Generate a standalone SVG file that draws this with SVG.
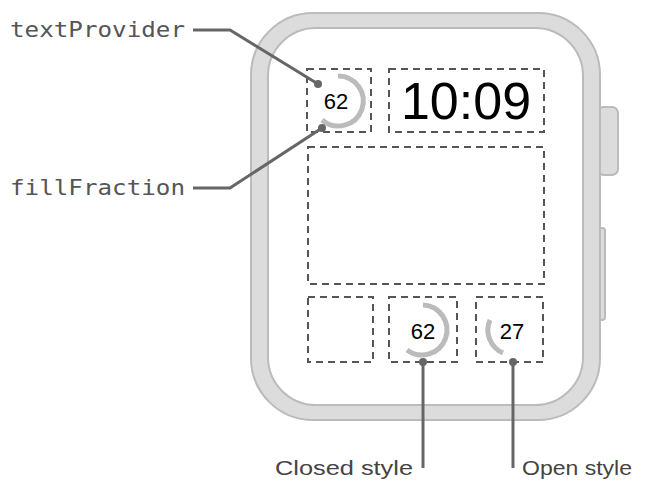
<svg xmlns="http://www.w3.org/2000/svg" width="655" height="491" viewBox="0 0 655 491">
<style>
.box{fill:none;stroke:#555;stroke-width:2;stroke-dasharray:7 5}
.g{fill:none;stroke:#bbb;stroke-width:5}
.ld{fill:none;stroke:#666;stroke-width:3}
.dot{fill:#666}
.mono{font-family:"DejaVu Sans Mono",monospace;font-size:22px;fill:#555}
.sans{font-family:"Liberation Sans",Arial,sans-serif;font-size:21px;fill:#444}
.num{font-family:"Liberation Sans",Arial,sans-serif;font-size:22px;fill:#000;text-anchor:middle}
</style>
<rect width="655" height="491" fill="#fff"/>
<g id="watch">
<rect x="598" y="107" width="20" height="68" rx="6" fill="#dcdcdc" stroke="#bbb" stroke-width="2"/>
<rect x="598" y="228" width="7" height="92" rx="3" fill="#dcdcdc" stroke="#bbb" stroke-width="2"/>
<rect x="251" y="13" width="349" height="407" rx="62" fill="#dcdcdc" stroke="#bbb" stroke-width="2"/>
<rect x="268" y="28" width="315" height="377" rx="48" fill="#fff" stroke="#bbb" stroke-width="2"/>
</g>
<g id="tl">
<rect class="box" x="307" y="69" width="64" height="63"/>
<path class="g" d="M338 76 A25 25 0 1 1 322 120"/>
<text class="num" x="336" y="109">62</text>
</g>
<g id="time">
<rect class="box" x="389" y="69" width="155" height="63"/>
<text x="466" y="119" text-anchor="middle" font-family="Liberation Sans,Arial,sans-serif" font-size="52" fill="#000">10:09</text>
</g>
<g id="middle"><rect class="box" x="308" y="147" width="236" height="137"/></g>
<g id="b1"><rect class="box" x="308" y="297" width="65" height="65"/></g>
<g id="b2">
<rect class="box" x="389" y="297" width="68" height="65"/>
<path class="g" d="M423 305 A25 25 0 1 1 407 350"/>
<text class="num" x="423" y="339">62</text>
</g>
<g id="b3">
<rect class="box" x="476" y="297" width="67" height="65"/>
<path class="g" d="M490 320 A25 25 0 0 0 503 353"/>
<text class="num" x="512" y="339">27</text>
</g>
<g id="connectors">
<path class="ld" d="M193 30 H230 L318 84"/>
<circle class="dot" cx="318" cy="84" r="4"/>
<path class="ld" d="M193 188 H230 L322 128"/>
<circle class="dot" cx="322" cy="128" r="4"/>
<path class="ld" d="M423 362 V468"/>
<circle class="dot" cx="423" cy="362" r="4"/>
<path class="ld" d="M513 362 V468"/>
<circle class="dot" cx="513" cy="362" r="4"/>
</g>
<g id="labels">
<text class="mono" x="10" y="37" textLength="175" lengthAdjust="spacingAndGlyphs">textProvider</text>
<text class="mono" x="10" y="195" textLength="175" lengthAdjust="spacingAndGlyphs">fillFraction</text>
<text class="sans" x="275" y="475" textLength="138" lengthAdjust="spacingAndGlyphs">Closed style</text>
<text class="sans" x="522" y="475" textLength="110" lengthAdjust="spacingAndGlyphs">Open style</text>
</g>
</svg>
